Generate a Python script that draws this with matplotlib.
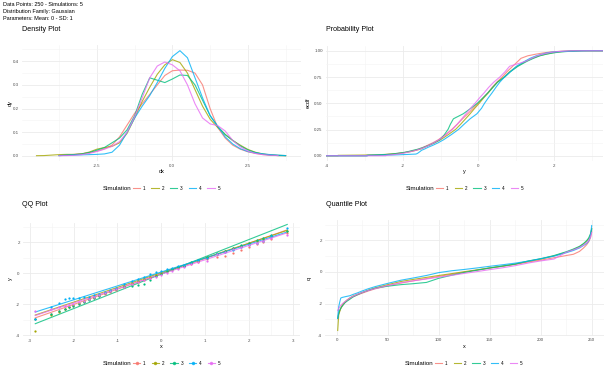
import numpy as np
import matplotlib
matplotlib.use("Agg")
import matplotlib.pyplot as plt
from matplotlib.lines import Line2D
from statistics import NormalDist

plt.rcParams['font.family'] = ['Liberation Sans', 'DejaVu Sans']

# ---- data ----
sim_names = ['1', '2', '3', '4', '5']
colors = ['#F8766D', '#A3A500', '#00BF7D', '#00B0F6', '#E76BF3']
n_points = 250

# ranks (1..250) at which the sorted samples were read
ranks = [1, 2, 3, 4, 5, 6, 8, 10, 13, 16, 20, 25, 31, 38, 50, 63, 75, 88, 100, 113, 125,
         138, 150, 163, 175, 188, 200, 213, 225, 232, 238, 242, 245, 247, 248, 249, 250]

q_sim1 = [-2.96, -2.62, -2.45, -2.3, -2.2, -2.1, -1.95, -1.82, -1.68, -1.57, -1.46, -1.34, -1.2,
          -1.06, -0.87, -0.7, -0.56, -0.42, -0.28, -0.14, -0.01, 0.12, 0.25, 0.36, 0.48, 0.63,
          0.75, 0.9, 1.04, 1.12, 1.3, 1.52, 1.72, 1.9, 2.05, 2.2, 2.6]
q_sim2 = [-3.7, -2.72, -2.5, -2.3, -2.15, -2.05, -1.9, -1.78, -1.64, -1.52, -1.42, -1.3, -1.15,
          -1.0, -0.8, -0.6, -0.47, -0.34, -0.22, -0.1, 0.02, 0.14, 0.26, 0.38, 0.5, 0.68, 0.82,
          1.02, 1.25, 1.42, 1.6, 1.78, 1.95, 2.1, 2.2, 2.4, 2.75]
q_sim3 = [-2.92, -2.62, -2.42, -2.3, -2.2, -2.12, -1.95, -1.85, -1.72, -1.58, -1.45, -1.3, -1.16,
          -1.02, -0.9, -0.8, -0.74, -0.66, -0.4, -0.2, -0.03, 0.12, 0.25, 0.38, 0.5, 0.7, 0.84,
          1.04, 1.28, 1.45, 1.62, 1.8, 1.98, 2.15, 2.3, 2.45, 2.72]
q_sim4 = [-2.94, -2.2, -1.9, -1.65, -1.62, -1.6, -1.57, -1.54, -1.5, -1.42, -1.33, -1.2, -1.06,
          -0.92, -0.72, -0.52, -0.38, -0.22, -0.04, 0.08, 0.16, 0.26, 0.36, 0.46, 0.56, 0.69,
          0.84, 1.0, 1.22, 1.36, 1.52, 1.68, 1.8, 1.95, 2.1, 2.4, 2.94]
q_sim5 = [-2.44, -2.3, -2.2, -2.12, -2.05, -1.98, -1.88, -1.78, -1.64, -1.54, -1.42, -1.3, -1.17,
          -1.04, -0.86, -0.68, -0.56, -0.44, -0.33, -0.21, -0.09, 0.03, 0.15, 0.27, 0.4, 0.57,
          0.7, 0.82, 1.25, 1.4, 1.55, 1.7, 1.85, 1.98, 2.1, 2.25, 2.5]
quantiles = [q_sim1, q_sim2, q_sim3, q_sim4, q_sim5]

# kernel density curves, read at a 0.25 grid
dens_x = [-4.5, -4.25, -4.0, -3.75, -3.5, -3.25, -3.0, -2.75, -2.5, -2.25, -2.0, -1.75, -1.5,
          -1.25, -1.0, -0.75, -0.5, -0.25, 0.0, 0.25, 0.5, 0.75, 1.0, 1.25, 1.5, 1.75, 2.0,
          2.25, 2.5, 2.75, 3.0, 3.25, 3.5, 3.75]
nan = float('nan')
d_sim1 = [nan, nan, nan, 0.001, 0.003, 0.006, 0.009, 0.013, 0.02, 0.03, 0.045, 0.08, 0.13, 0.18,
          0.22, 0.26, 0.3, 0.34, 0.36, 0.363, 0.362, 0.35, 0.3, 0.2, 0.12, 0.075, 0.045, 0.028,
          0.017, 0.01, 0.005, 0.003, 0.001, 0.0005]
d_sim2 = [0.0005, 0.001, 0.003, 0.005, 0.006, 0.006, 0.008, 0.016, 0.028, 0.035, 0.04, 0.055,
          0.095, 0.16, 0.23, 0.29, 0.345, 0.385, 0.407, 0.395, 0.35, 0.28, 0.21, 0.155, 0.12,
          0.09, 0.065, 0.045, 0.027, 0.015, 0.008, 0.004, 0.002, 0.001]
d_sim3 = [nan, nan, nan, 0.001, 0.003, 0.005, 0.008, 0.014, 0.024, 0.035, 0.055, 0.075, 0.11,
          0.17, 0.26, 0.33, 0.32, 0.31, 0.325, 0.342, 0.34, 0.3, 0.235, 0.17, 0.125, 0.09,
          0.065, 0.042, 0.025, 0.014, 0.007, 0.003, 0.001, 0.0005]
d_sim4 = [nan, nan, nan, 0.001, 0.002, 0.003, 0.004, 0.005, 0.006, 0.008, 0.015, 0.045, 0.1,
          0.16, 0.21, 0.255, 0.31, 0.37, 0.42, 0.445, 0.415, 0.33, 0.245, 0.17, 0.125, 0.08,
          0.05, 0.03, 0.018, 0.012, 0.008, 0.005, 0.003, 0.001]
d_sim5 = [nan, nan, nan, 0.0005, 0.001, 0.002, 0.005, 0.01, 0.018, 0.028, 0.04, 0.06, 0.1,
          0.165, 0.245, 0.33, 0.38, 0.397, 0.385, 0.36, 0.3, 0.22, 0.16, 0.135, 0.128, 0.105,
          0.065, 0.038, 0.02, 0.01, 0.005, 0.002, 0.001, nan]
densities = [d_sim1, d_sim2, d_sim3, d_sim4, d_sim5]

header = ["Data Points: 250 - Simulations: 5",
          "Distribution Family: Gaussian",
          "Parameters: Mean: 0 - SD: 1"]

# ---- figure ----
W, H = 610, 377
fig = plt.figure(figsize=(W / 100, H / 100), dpi=100)
fig.patch.set_facecolor('white')


def add_ax(l, t, r, b):
    return fig.add_axes([l / W, 1 - b / H, (r - l) / W, (b - t) / H])


def style(ax, xmaj, xmin, ymaj, ymin, xfmt, yfmt):
    ax.set_xticks(xmaj)
    ax.set_xticks(xmin, minor=True)
    ax.set_yticks(ymaj)
    ax.set_yticks(ymin, minor=True)
    ax.set_xticklabels([xfmt.format(v) for v in xmaj])
    ax.set_yticklabels([yfmt.format(v) for v in ymaj])
    ax.grid(True, which='major', color='#EBEBEB', lw=0.6)
    ax.grid(True, which='minor', color='#F4F4F4', lw=0.4)
    ax.set_axisbelow(True)
    for s in ax.spines.values():
        s.set_visible(False)
    ax.tick_params(which='both', length=0, labelsize=3.2, labelcolor='#4D4D4D', pad=2)


def legend(x_px, y_px, points=False):
    fig.text(x_px / W, 1 - y_px / H, 'Simulation', fontsize=4.4, va='center', ha='left')
    handles = [Line2D([], [], color=c, lw=0.8, alpha=0.8,
                      marker='o' if points else None, markersize=1.5) for c in colors]
    fig.legend(handles, sim_names, loc='center left',
               bbox_to_anchor=((x_px + 30) / W, 1 - y_px / H), ncol=5, frameon=False,
               fontsize=3.3, handlelength=1.6, handletextpad=0.6, columnspacing=1.3,
               borderpad=0, borderaxespad=0)


for i, line in enumerate(header):
    fig.text(3 / W, 1 - (5 + i * 6.7) / H, line, fontsize=4, va='center', ha='left')

# Density plot
ax1 = add_ax(22, 45, 301, 161)
for d, c in zip(densities, colors):
    ax1.plot(dens_x, d, color=c, lw=0.8, alpha=0.8)
ax1.set_xlim(-4.98, 4.26)
ax1.set_ylim(-0.022, 0.469)
style(ax1, [-2.5, 0, 2.5], [-3.75, -1.25, 1.25, 3.75], [0, 0.1, 0.2, 0.3, 0.4],
      [0.05, 0.15, 0.25, 0.35, 0.45], '{:.1f}', '{:.1f}')
fig.text(22 / W, 1 - 29.3 / H, 'Density Plot', fontsize=5.1, va='center')
fig.text(161.5 / W, 1 - 171.7 / H, 'dx', fontsize=4, ha='center', va='center')
fig.text(10 / W, 1 - 103 / H, 'dy', fontsize=4, ha='center', va='center', rotation=90)
legend(102.7, 188.3)

# Probability plot (ECDF)
ax2 = add_ax(325.5, 45.5, 602.6, 161)
for q, c in zip(quantiles, colors):
    xs = [-4.03, q[0]] + list(q) + [3.27]
    ys = [0, 0] + [r / n_points for r in ranks] + [1]
    ax2.plot(xs, ys, color=c, lw=0.8, alpha=0.8)
ax2.set_xlim(-4.03, 3.27)
ax2.set_ylim(-0.05, 1.05)
style(ax2, [-4, -2, 0, 2], [-3, -1, 1, 3], [0, 0.25, 0.5, 0.75, 1.0],
      [0.125, 0.375, 0.625, 0.875], '{:.0f}', '{:.2f}')
fig.text(325.7 / W, 1 - 29.3 / H, 'Probability Plot', fontsize=5.1, va='center')
fig.text(464 / W, 1 - 171.7 / H, 'y', fontsize=4, ha='center', va='center')
fig.text(308 / W, 1 - 103 / H, 'ecdf', fontsize=4, ha='center', va='center', rotation=90)
legend(406, 188.3)

# QQ plot
nd = NormalDist()
theo = [nd.inv_cdf((r - 0.5) / n_points) for r in ranks]
i25, i75 = ranks.index(63), ranks.index(188)
ax3 = add_ax(22.5, 222.6, 300, 335.8)
for q, c in zip(quantiles, colors):
    ax3.scatter(theo, q, s=2.6, color=c, lw=0, zorder=3)
    slope = (q[i75] - q[i25]) / (theo[i75] - theo[i25])
    icpt = q[i25] - slope * theo[i25]
    ax3.plot([theo[0], theo[-1]], [icpt + slope * theo[0], icpt + slope * theo[-1]],
             color=c, lw=0.8, alpha=0.8, zorder=2)
ax3.set_xlim(-3.17, 3.17)
ax3.set_ylim(-4.03, 3.27)
style(ax3, [-3, -2, -1, 0, 1, 2, 3], [-2.5, -1.5, -0.5, 0.5, 1.5, 2.5], [-4, -2, 0, 2],
      [-3, -1, 1, 3], '{:.0f}', '{:.0f}')
fig.text(22 / W, 1 - 205 / H, 'QQ Plot', fontsize=5.1, va='center')
fig.text(161 / W, 1 - 346.7 / H, 'x', fontsize=4, ha='center', va='center')
fig.text(10 / W, 1 - 279 / H, 'y', fontsize=4, ha='center', va='center', rotation=90)
legend(103, 363.3, points=True)

# Quantile plot
ax4 = add_ax(325, 220.3, 604.4, 335.7)
for q, c in zip(quantiles, colors):
    ax4.plot(ranks, q, color=c, lw=0.8, alpha=0.8)
ax4.set_xlim(-11.45, 262.45)
ax4.set_ylim(-4.03, 3.27)
style(ax4, [0, 50, 100, 150, 200, 250], [25, 75, 125, 175, 225], [-4, -2, 0, 2],
      [-3, -1, 1, 3], '{:.0f}', '{:.0f}')
fig.text(325.7 / W, 1 - 205 / H, 'Quantile Plot', fontsize=5.1, va='center')
fig.text(464 / W, 1 - 346.7 / H, 'x', fontsize=4, ha='center', va='center')
fig.text(309 / W, 1 - 278 / H, 'q', fontsize=4, ha='center', va='center', rotation=90)
legend(405, 363.3)

fig.savefig('out.png', dpi=100, facecolor='white')
